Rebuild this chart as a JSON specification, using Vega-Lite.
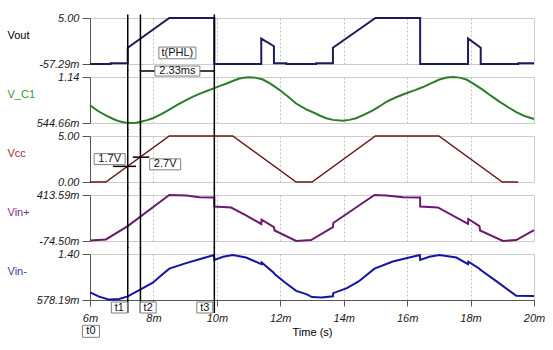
{
  "$schema": "https://vega.github.io/schema/vega-lite/v6.json",
  "padding": {"left": 6, "top": 11, "right": 5, "bottom": 5},
  "background": "white",
  "spacing": 13,
  "bounds": "flush",
  "config": {
    "view": {"stroke": "#cccccc", "strokeWidth": 1},
    "axis": {"labelFont": "Liberation Sans", "labelFontSize": 11, "labelFontStyle": "italic", "labelColor": "#1a1a1a", "titleFont": "Liberation Sans", "titleFontSize": 11, "titleFontWeight": "normal", "titleColor": "#000000", "domainColor": "#555555", "tickColor": "#555555", "grid": false, "labelOverlap": false, "labelFlush": false, "labelBound": false},
    "text": {"font": "Liberation Sans", "fontSize": 11}
  },
  "datasets": {
    "cursors": [{"t": 7.19, "name": "t1"}, {"t": 7.59, "name": "t2"}, {"t": 9.92, "name": "t3"}],
    "vout": [{"t":6,"v":-0.05729},{"t":6.65,"v":-0.05729},{"t":6.65,"v":0.02},{"t":7.19,"v":0.02},{"t":7.19,"v":1.73},{"t":8.5,"v":5},{"t":9.92,"v":5},{"t":9.92,"v":-0.05729},{"t":11.4,"v":-0.05729},{"t":11.4,"v":2.74},{"t":11.8,"v":1.9},{"t":11.8,"v":0.02},{"t":12.19,"v":0.02},{"t":12.19,"v":-0.05729},{"t":13.13,"v":-0.05729},{"t":13.13,"v":0.02},{"t":13.66,"v":0.02},{"t":13.66,"v":1.73},{"t":15,"v":5},{"t":16.41,"v":5},{"t":16.41,"v":-0.05729},{"t":17.92,"v":-0.05729},{"t":17.92,"v":2.74},{"t":18.32,"v":1.73},{"t":18.32,"v":-0.05729},{"t":19.5,"v":-0.05729},{"t":19.5,"v":0.02},{"t":20,"v":0.02}],
    "vc1": [{"t":6,"v":0.775},{"t":6.25,"v":0.7},{"t":6.5,"v":0.642},{"t":6.75,"v":0.593},{"t":6.92,"v":0.566},{"t":7.1,"v":0.552},{"t":7.29,"v":0.545},{"t":7.45,"v":0.548},{"t":7.61,"v":0.562},{"t":7.8,"v":0.582},{"t":7.98,"v":0.606},{"t":8.25,"v":0.66},{"t":8.5,"v":0.717},{"t":8.75,"v":0.778},{"t":9.03,"v":0.841},{"t":9.25,"v":0.885},{"t":9.45,"v":0.921},{"t":9.7,"v":0.962},{"t":9.92,"v":0.996},{"t":10.1,"v":1.025},{"t":10.29,"v":1.053},{"t":10.5,"v":1.088},{"t":10.71,"v":1.12},{"t":10.9,"v":1.134},{"t":11.03,"v":1.137},{"t":11.2,"v":1.132},{"t":11.45,"v":1.107},{"t":11.7,"v":1.05},{"t":11.97,"v":0.974},{"t":12.25,"v":0.885},{"t":12.5,"v":0.797},{"t":12.82,"v":0.72},{"t":13.13,"v":0.664},{"t":13.24,"v":0.642},{"t":13.45,"v":0.607},{"t":13.66,"v":0.585},{"t":13.97,"v":0.575},{"t":14.18,"v":0.585},{"t":14.39,"v":0.606},{"t":14.65,"v":0.652},{"t":14.92,"v":0.708},{"t":15.15,"v":0.765},{"t":15.34,"v":0.819},{"t":15.65,"v":0.878},{"t":15.97,"v":0.93},{"t":16.25,"v":0.97},{"t":16.5,"v":1.01},{"t":16.75,"v":1.058},{"t":17.02,"v":1.107},{"t":17.25,"v":1.133},{"t":17.45,"v":1.14},{"t":17.65,"v":1.132},{"t":17.87,"v":1.107},{"t":18.1,"v":1.05},{"t":18.39,"v":0.974},{"t":18.65,"v":0.895},{"t":18.92,"v":0.819},{"t":19.2,"v":0.745},{"t":19.44,"v":0.686},{"t":19.7,"v":0.635},{"t":20,"v":0.596}],
    "vcc": [{"t":6,"v":0},{"t":6.5,"v":0},{"t":8.5,"v":5},{"t":10.5,"v":5},{"t":12.5,"v":0},{"t":13,"v":0},{"t":15,"v":5},{"t":17,"v":5},{"t":19,"v":0},{"t":19.5,"v":0}],
    "vinp": [{"t":6,"v":-0.068},{"t":6.5,"v":-0.058},{"t":7.19,"v":0.083},{"t":8.5,"v":0.41359},{"t":9.03,"v":0.407},{"t":9.45,"v":0.389},{"t":9.92,"v":0.386},{"t":9.92,"v":0.292},{"t":10.45,"v":0.281},{"t":10.92,"v":0.197},{"t":11.4,"v":0.106},{"t":11.41,"v":0.152},{"t":11.8,"v":0.072},{"t":11.82,"v":0.037},{"t":12.5,"v":-0.0745},{"t":12.97,"v":-0.064},{"t":13.66,"v":0.072},{"t":13.67,"v":0.117},{"t":14.97,"v":0.41359},{"t":15.34,"v":0.407},{"t":15.87,"v":0.389},{"t":16.41,"v":0.386},{"t":16.41,"v":0.292},{"t":16.97,"v":0.281},{"t":17.92,"v":0.106},{"t":17.93,"v":0.159},{"t":18.28,"v":0.083},{"t":18.3,"v":0.037},{"t":19.02,"v":-0.0745},{"t":19.44,"v":-0.064},{"t":20,"v":0.041}],
    "vinm": [{"t":6,"v":0.713},{"t":6.29,"v":0.638},{"t":6.61,"v":0.585},{"t":6.92,"v":0.596},{"t":7.19,"v":0.643},{"t":7.61,"v":0.771},{"t":7.98,"v":0.888},{"t":8.25,"v":1.02},{"t":8.5,"v":1.138},{"t":9.03,"v":1.237},{"t":9.45,"v":1.307},{"t":9.91,"v":1.382},{"t":9.92,"v":1.295},{"t":10.2,"v":1.35},{"t":10.5,"v":1.382},{"t":10.92,"v":1.337},{"t":11.4,"v":1.22},{"t":11.41,"v":1.25},{"t":11.8,"v":1.063},{"t":11.82,"v":1.04},{"t":12.15,"v":0.89},{"t":12.5,"v":0.742},{"t":12.82,"v":0.683},{"t":13,"v":0.63},{"t":13.3,"v":0.622},{"t":13.66,"v":0.645},{"t":13.67,"v":0.7},{"t":14.1,"v":0.79},{"t":14.47,"v":0.91},{"t":14.97,"v":1.138},{"t":15.55,"v":1.267},{"t":16,"v":1.33},{"t":16.4,"v":1.382},{"t":16.41,"v":1.295},{"t":16.7,"v":1.35},{"t":17.02,"v":1.382},{"t":17.55,"v":1.337},{"t":17.92,"v":1.22},{"t":17.93,"v":1.264},{"t":18.28,"v":1.138},{"t":18.3,"v":1.12},{"t":18.92,"v":0.87},{"t":19.44,"v":0.652},{"t":20,"v":0.648}]
  },
  "vconcat": [
    {
      "width": 444, "height": 46,
      "layer": [
        {
          "data": {"name": "vout"},
          "mark": {"type": "line", "color": "#1c1c5a", "strokeWidth": 2},
          "encoding": {
            "x": {"field": "t", "type": "quantitative", "scale": {"domain": [6, 20], "nice": false},
                  "axis": {"title": null, "values": [8, 10, 12, 14, 16, 18], "labels": false, "ticks": false, "domain": false, "grid": true, "gridDash": [2, 2], "gridColor": "#c4c4c4"}},
            "y": {"field": "v", "type": "quantitative", "scale": {"domain": [-0.05729, 5], "nice": false, "zero": false},
                  "axis": {"title": "Vout", "titleAngle": 0, "titleAlign": "left", "titleBaseline": "middle", "titleX": -83, "titleY": 17, "titleColor": "#000000",
                           "values": [-0.05729, 0.785592, 1.628473, 2.471355, 3.314237, 4.157118, 5],
                           "labelExpr": "datum.value == 5 ? '5.00' : datum.value == -0.05729 ? '-57.29m' : ''",
                           "tickSize": {"condition": {"test": "datum.value == 5 || datum.value == -0.05729", "value": 8}, "value": 4},
                           "labelPadding": 3}}
          }
        },
        {
          "data": {"name": "cursors"},
          "mark": {"type": "rule", "color": "#000000", "strokeWidth": 1.5},
          "encoding": {"x": {"field": "t", "type": "quantitative"}, "y": {"datum": 5.385, "type": "quantitative"}, "y2": {"datum": -0.827}}
        },
        {
          "data": {"values": [{"a": 7.59, "b": 9.92}]},
          "mark": {"type": "rule", "color": "#000000", "strokeWidth": 1.5},
          "encoding": {"x": {"field": "a", "type": "quantitative"}, "x2": {"field": "b"}, "y": {"datum": -0.83, "type": "quantitative"}}
        },
        {
          "data": {"values": [{"t": 8.755, "v": 1.16, "label": "t(PHL)"}]},
          "mark": {"type": "point", "shape": "M-1,-0.316H1V0.316H-1Z", "size": 1369, "filled": false, "fill": "#ffffff", "stroke": "#808080", "strokeWidth": 1, "opacity": 1},
          "encoding": {"x": {"field": "t", "type": "quantitative"}, "y": {"field": "v", "type": "quantitative"}}
        },
        {
          "data": {"values": [{"t": 8.755, "v": -0.83, "label": "2.33ms"}]},
          "mark": {"type": "point", "shape": "M-1,-0.222H1V0.222H-1Z", "size": 2025, "filled": false, "fill": "#ffffff", "stroke": "#808080", "strokeWidth": 1, "opacity": 1},
          "encoding": {"x": {"field": "t", "type": "quantitative"}, "y": {"field": "v", "type": "quantitative"}}
        },
        {
          "data": {"values": [{"t": 8.755, "v": 1.16, "label": "t(PHL)"}, {"t": 8.755, "v": -0.83, "label": "2.33ms"}]},
          "mark": {"type": "text", "font": "Liberation Sans", "fontSize": 11, "color": "#111111", "align": "center", "baseline": "middle"},
          "encoding": {"x": {"field": "t", "type": "quantitative"}, "y": {"field": "v", "type": "quantitative"}, "text": {"field": "label"}}
        }
      ]
    },
    {
      "width": 444, "height": 46,
      "layer": [
        {
          "data": {"name": "vc1"},
          "mark": {"type": "line", "color": "#2b7d2b", "strokeWidth": 2},
          "encoding": {
            "x": {"field": "t", "type": "quantitative", "scale": {"domain": [6, 20], "nice": false},
                  "axis": {"title": null, "values": [8, 10, 12, 14, 16, 18], "labels": false, "ticks": false, "domain": false, "grid": true, "gridDash": [2, 2], "gridColor": "#c4c4c4"}},
            "y": {"field": "v", "type": "quantitative", "scale": {"domain": [0.54466, 1.14], "nice": false, "zero": false},
                  "axis": {"title": "V_C1", "titleAngle": 0, "titleAlign": "left", "titleBaseline": "middle", "titleX": -83, "titleY": 17, "titleColor": "#339933",
                           "values": [0.54466, 0.643883, 0.743107, 0.84233, 0.941553, 1.040777, 1.14],
                           "labelExpr": "datum.value == 1.14 ? '1.14' : datum.value == 0.54466 ? '544.66m' : ''",
                           "tickSize": {"condition": {"test": "datum.value == 1.14 || datum.value == 0.54466", "value": 8}, "value": 4},
                           "labelPadding": 3}}
          }
        },
        {
          "data": {"name": "cursors"},
          "mark": {"type": "rule", "color": "#000000", "strokeWidth": 1.5},
          "encoding": {"x": {"field": "t", "type": "quantitative"}, "y": {"datum": 1.2306, "type": "quantitative"}, "y2": {"datum": 0.4541}}
        }
      ]
    },
    {
      "width": 444, "height": 46,
      "layer": [
        {
          "data": {"name": "vcc"},
          "mark": {"type": "line", "color": "#6e1616", "strokeWidth": 1.5},
          "encoding": {
            "x": {"field": "t", "type": "quantitative", "scale": {"domain": [6, 20], "nice": false},
                  "axis": {"title": null, "values": [8, 10, 12, 14, 16, 18], "labels": false, "ticks": false, "domain": false, "grid": true, "gridDash": [2, 2], "gridColor": "#c4c4c4"}},
            "y": {"field": "v", "type": "quantitative", "scale": {"domain": [0, 5], "nice": false, "zero": false},
                  "axis": {"title": "Vcc", "titleAngle": 0, "titleAlign": "left", "titleBaseline": "middle", "titleX": -83, "titleY": 17, "titleColor": "#993333",
                           "values": [0, 0.833333, 1.666667, 2.5, 3.333333, 4.166667, 5],
                           "labelExpr": "datum.value == 5 ? '5.00' : datum.value == 0 ? '0.00' : ''",
                           "tickSize": {"condition": {"test": "datum.value == 5 || datum.value == 0", "value": 8}, "value": 4},
                           "labelPadding": 3}}
          }
        },
        {
          "data": {"name": "cursors"},
          "mark": {"type": "rule", "color": "#000000", "strokeWidth": 1.5},
          "encoding": {"x": {"field": "t", "type": "quantitative"}, "y": {"datum": 5.761, "type": "quantitative"}, "y2": {"datum": -0.761}}
        },
        {
          "data": {"values": [{"a": 6.72, "b": 7.45, "v": 1.7}, {"a": 7.35, "b": 7.87, "v": 2.7}]},
          "mark": {"type": "rule", "color": "#000000", "strokeWidth": 1.5},
          "encoding": {"x": {"field": "a", "type": "quantitative"}, "x2": {"field": "b"}, "y": {"field": "v", "type": "quantitative"}}
        },
        {
          "data": {"values": [{"t": 6.62, "v": 2.49, "label": "1.7V"}, {"t": 8.37, "v": 1.92, "label": "2.7V"}]},
          "mark": {"type": "point", "shape": "M-1,-0.355H1V0.355H-1Z", "size": 961, "filled": false, "fill": "#ffffff", "stroke": "#808080", "strokeWidth": 1, "opacity": 1},
          "encoding": {"x": {"field": "t", "type": "quantitative"}, "y": {"field": "v", "type": "quantitative"}}
        },
        {
          "data": {"values": [{"t": 6.62, "v": 2.49, "label": "1.7V"}, {"t": 8.37, "v": 1.92, "label": "2.7V"}]},
          "mark": {"type": "text", "font": "Liberation Sans", "fontSize": 11, "color": "#111111", "align": "center", "baseline": "middle"},
          "encoding": {"x": {"field": "t", "type": "quantitative"}, "y": {"field": "v", "type": "quantitative"}, "text": {"field": "label"}}
        }
      ]
    },
    {
      "width": 444, "height": 46,
      "layer": [
        {
          "data": {"name": "vinp"},
          "mark": {"type": "line", "color": "#6b1b6b", "strokeWidth": 2},
          "encoding": {
            "x": {"field": "t", "type": "quantitative", "scale": {"domain": [6, 20], "nice": false},
                  "axis": {"title": null, "values": [8, 10, 12, 14, 16, 18], "labels": false, "ticks": false, "domain": false, "grid": true, "gridDash": [2, 2], "gridColor": "#c4c4c4"}},
            "y": {"field": "v", "type": "quantitative", "scale": {"domain": [-0.0745, 0.41359], "nice": false, "zero": false},
                  "axis": {"title": "Vin+", "titleAngle": 0, "titleAlign": "left", "titleBaseline": "middle", "titleX": -83, "titleY": 17, "titleColor": "#803080",
                           "values": [-0.0745, 0.006848, 0.088197, 0.169545, 0.250893, 0.332242, 0.41359],
                           "labelExpr": "datum.value == 0.41359 ? '413.59m' : datum.value == -0.0745 ? '-74.50m' : ''",
                           "tickSize": {"condition": {"test": "datum.value == 0.41359 || datum.value == -0.0745", "value": 8}, "value": 4},
                           "labelPadding": 3}}
          }
        },
        {
          "data": {"name": "cursors"},
          "mark": {"type": "rule", "color": "#000000", "strokeWidth": 1.5},
          "encoding": {"x": {"field": "t", "type": "quantitative"}, "y": {"datum": 0.48789, "type": "quantitative"}, "y2": {"datum": -0.14878}}
        }
      ]
    },
    {
      "width": 444, "height": 46,
      "layer": [
        {
          "data": {"name": "vinm"},
          "mark": {"type": "line", "color": "#1515a0", "strokeWidth": 2},
          "encoding": {
            "x": {"field": "t", "type": "quantitative", "scale": {"domain": [6, 20], "nice": false},
                  "axis": {"title": "Time (s)", "titleFontStyle": "normal", "titlePadding": 3,
                           "values": [6,6.25,6.5,6.75,7,7.25,7.5,7.75,8,8.25,8.5,8.75,9,9.25,9.5,9.75,10,10.25,10.5,10.75,11,11.25,11.5,11.75,12,12.25,12.5,12.75,13,13.25,13.5,13.75,14,14.25,14.5,14.75,15,15.25,15.5,15.75,16,16.25,16.5,16.75,17,17.25,17.5,17.75,18,18.25,18.5,18.75,19,19.25,19.5,19.75,20],
                           "labelExpr": "datum.value % 2 == 0 ? datum.value + 'm' : ''",
                           "tickSize": {"condition": {"test": "datum.value % 2 == 0", "value": 6}, "value": 3},
                           "labelPadding": 6,
                           "grid": true, "gridDash": [2, 2], "gridColor": "#c4c4c4",
                           "gridOpacity": {"condition": {"test": "datum.value % 2 == 0", "value": 1}, "value": 0}}},
            "y": {"field": "v", "type": "quantitative", "scale": {"domain": [0.57819, 1.4], "nice": false, "zero": false},
                  "axis": {"title": "Vin-", "titleAngle": 0, "titleAlign": "left", "titleBaseline": "middle", "titleX": -83, "titleY": 17, "titleColor": "#3b3b99",
                           "values": [0.57819, 0.715158, 0.852127, 0.989095, 1.126063, 1.263032, 1.4],
                           "labelExpr": "datum.value == 1.4 ? '1.40' : datum.value == 0.57819 ? '578.19m' : ''",
                           "tickSize": {"condition": {"test": "datum.value == 1.4 || datum.value == 0.57819", "value": 8}, "value": 4},
                           "labelPadding": 3}}
          }
        },
        {
          "data": {"name": "cursors"},
          "mark": {"type": "rule", "color": "#000000", "strokeWidth": 1.5},
          "encoding": {"x": {"field": "t", "type": "quantitative"}, "y": {"datum": 1.525, "type": "quantitative"}, "y2": {"datum": 0.346}}
        },
        {
          "data": {"values": [{"t": 6.925, "v": 0.444, "label": "t1"}, {"t": 7.835, "v": 0.444, "label": "t2"}, {"t": 9.62, "v": 0.444, "label": "t3"}]},
          "mark": {"type": "point", "shape": "M-1,-0.6875H1V0.6875H-1Z", "size": 256, "filled": false, "fill": "#ffffff", "stroke": "#808080", "strokeWidth": 1, "opacity": 1},
          "encoding": {"x": {"field": "t", "type": "quantitative"}, "y": {"field": "v", "type": "quantitative"}}
        },
        {
          "data": {"values": [{"t": 6.03, "v": 0.019, "label": "t0"}]},
          "mark": {"type": "point", "shape": "M-1,-0.706H1V0.706H-1Z", "size": 289, "filled": false, "fill": "#ffffff", "stroke": "#808080", "strokeWidth": 1, "opacity": 1},
          "encoding": {"x": {"field": "t", "type": "quantitative"}, "y": {"field": "v", "type": "quantitative"}}
        },
        {
          "data": {"values": [{"t": 6.925, "v": 0.444, "label": "t1"}, {"t": 7.835, "v": 0.444, "label": "t2"}, {"t": 9.62, "v": 0.444, "label": "t3"}, {"t": 6.03, "v": 0.019, "label": "t0"}]},
          "mark": {"type": "text", "font": "Liberation Sans", "fontSize": 11, "color": "#111111", "align": "center", "baseline": "middle"},
          "encoding": {"x": {"field": "t", "type": "quantitative"}, "y": {"field": "v", "type": "quantitative"}, "text": {"field": "label"}}
        }
      ]
    }
  ]
}
